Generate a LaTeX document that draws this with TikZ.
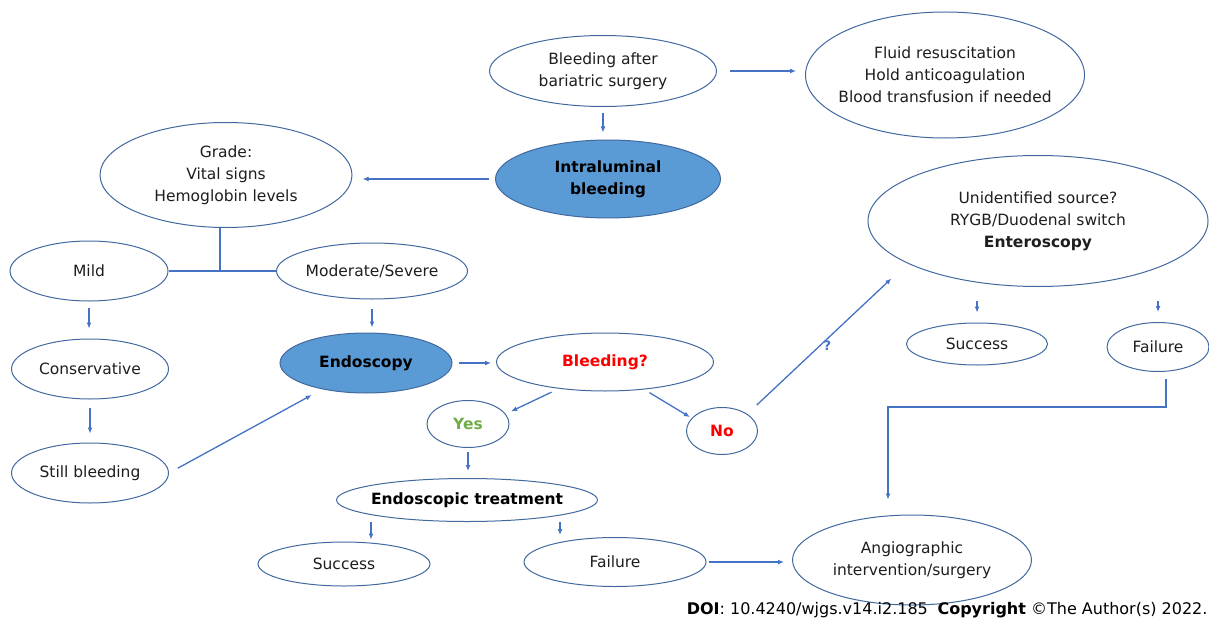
\documentclass[tikz,border=0pt]{standalone}
\usepackage{fontspec}
\setmainfont{DejaVu Sans}
\usetikzlibrary{shapes.geometric}
\usetikzlibrary{arrows.meta}

\definecolor{edgeblue}{RGB}{65,105,160}
\definecolor{linkblue}{RGB}{68,114,196}
\definecolor{fillblue}{RGB}{91,155,213}
\definecolor{noRed}{RGB}{250,0,0}
\definecolor{yesGreen}{RGB}{112,173,71}
\definecolor{ink}{RGB}{30,30,30}
\newcommand{\chartfont}{\fontsize{15.5}{22}\selectfont}

\begin{document}
\begin{tikzpicture}[x = 1pt, y = -1pt, line width = 1pt,
    oval/.style = {ellipse, draw = edgeblue, fill = white, inner sep = 0pt, inner xsep = -8pt, text = ink, align = center, font = \chartfont},
    key/.style = {oval, fill = fillblue, text = black, font = \chartfont\bfseries},
    hot/.style = {oval, text = noRed, font = \chartfont\bfseries},
    link/.style = {draw = linkblue, line width = 1.3pt, -{Latex[length=6pt, width=5pt]}},
    bar/.style = {draw = linkblue, line width = 1.3pt}]

    \useasboundingbox (0,0) rectangle (1209,623);

    \node (BA) at (603,71)  [oval, minimum width = 227, minimum height = 71] {Bleeding after\\bariatric surgery};
    \node (FR) at (945,75)  [oval, minimum width = 279, minimum height = 126, inner xsep = -14pt] {Fluid resuscitation\\Hold anticoagulation\\Blood transfusion if needed};
    \node (IB) at (608,179) [key, minimum width = 225, minimum height = 78] {Intraluminal\\bleeding};
    \node (GR) at (226,175) [oval, minimum width = 252, minimum height = 105] {Grade:\\Vital signs\\Hemoglobin levels};

    \node (MI) at (89,271)  [oval, minimum width = 158, minimum height = 60] {Mild};
    \node (MS) at (372,271) [oval, minimum width = 191, minimum height = 56] {Moderate/Severe};
    \node (CO) at (90,369)  [oval, minimum width = 157, minimum height = 60] {Conservative};
    \node (SB) at (90,473)  [oval, minimum width = 157, minimum height = 60] {Still bleeding};

    \node (EN) at (366,363) [key, minimum width = 172, minimum height = 60] {Endoscopy};
    \node (BL) at (605,362) [hot, minimum width = 217, minimum height = 58] {Bleeding?};
    \node (YE) at (468,424) [hot, minimum width = 82, minimum height = 47, text = yesGreen] {Yes};
    \node (NO) at (722,431) [hot, minimum width = 71, minimum height = 47] {No};

    \node (ET) at (467,500) [oval, minimum width = 261, minimum height = 43, text = black, font = \chartfont\bfseries] {Endoscopic treatment};
    \node (S1) at (344,564) [oval, minimum width = 172, minimum height = 44] {Success};
    \node (F1) at (615,562) [oval, minimum width = 182, minimum height = 49] {Failure};
    \node (AI) at (912,560) [oval, minimum width = 239, minimum height = 90] {Angiographic\\intervention/surgery};

    \node (US) at (1038,221) [oval, minimum width = 340, minimum height = 131] {Unidentified source?\\RYGB/Duodenal switch\\\textbf{Enteroscopy}};
    \node (S2) at (977,344)  [oval, minimum width = 141, minimum height = 42] {Success};
    \node (F2) at (1158,347) [oval, minimum width = 102, minimum height = 49] {Failure};

    \node (DOI) at (1208,610) [anchor = east, inner sep = 0pt, text = black, font = \fontsize{16}{18}\selectfont] {\textbf{DOI}: 10.4240/wjgs.v14.i2.185\hspace{0.6em}\textbf{Copyright} ©The Author(s) 2022.};


    \draw[link, shorten <= 13pt, shorten >= 9pt] (BA.east) -- (BA.east -| FR.west);
    \draw[link, shorten <= 6pt, shorten >= 7pt] (BA.south) -- (BA.south |- IB.north);
    \draw[link, shorten <= 6pt, shorten >= 10pt] (IB.west) -- (IB.west -| GR.east);

    \draw[bar] ([xshift = -6pt]GR.south) -- ([xshift = -6pt]GR.south |- MI.east);
    \draw[bar] (MI.east) -- (MS.west);

    \draw[link, shorten <= 6pt, shorten >= 10pt] (MI.south) -- (MI.south |- CO.north);
    \draw[link, shorten <= 8pt, shorten >= 9pt] (CO.south) -- (CO.south |- SB.north);
    \draw[link, shorten <= 9pt, shorten >= 5pt] (MS.south) -- (MS.south |- EN.north);
    \draw[link, shorten <= 10pt, shorten >= 12pt] (SB.east) -- (EN.211);

    \draw[link, shorten <= 6pt, shorten >= 5pt] (EN.east) -- (EN.east -| BL.west);
    \draw[link, shorten <= 8pt, shorten >= 6pt] (BL.210) -- (YE.15);
    \draw[link, shorten <= 6pt, shorten >= 2pt] (BL.325) -- (NO.157);
    \draw[link, shorten <= 13pt, shorten >= 22pt] (NO.34) -- (US.198)
        node [pos = 0.5, below, inner sep = 2pt, text = linkblue, font = \fontsize{13}{15}\selectfont\bfseries] {?};

    \draw[link, shorten <= 4pt, shorten >= 7pt] (YE.south) -- (YE.south |- ET.north);
    \draw[link, shorten >= 2pt] ([xshift = -96pt]ET.south) -- ([xshift = -96pt]ET.south |- S1.north);
    \draw[link, shorten >= 2pt] ([xshift = 93pt]ET.south) -- ([xshift = 93pt]ET.south |- F1.north);
    \draw[link, shorten <= 2pt, shorten >= 8pt] (F1.east) -- (F1.east -| AI.west);

    \draw[link, shorten <= 14pt, shorten >= 10pt] (S2.north |- US.south) -- (S2.north);
    \draw[link, shorten <= 14pt, shorten >= 10pt] (F2.north |- US.south) -- (F2.north);
    \draw[link, shorten <= 7pt, shorten >= 15pt] ([xshift = 8pt]F2.south) -- ++(0,35) -| ([xshift = -24pt]AI.north);

\end{tikzpicture}
\end{document}
